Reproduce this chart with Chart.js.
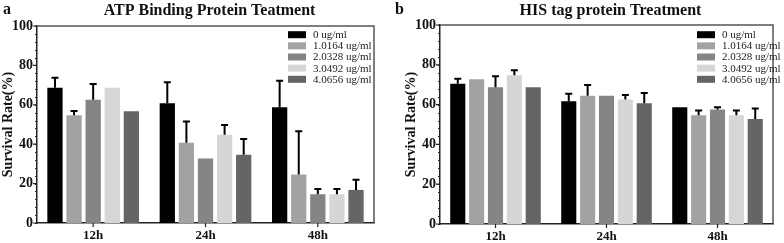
<!DOCTYPE html>
<html>
<head>
<meta charset="utf-8">
<script src="https://cdn.jsdelivr.net/npm/chart.js@4.4.1/dist/chart.umd.min.js"></script>
<style>
  html, body { margin: 0; padding: 0; background: #fff; }
  #wrap { position: relative; width: 784px; height: 243px; }
  .panel { position: absolute; top: 0; width: 392px; height: 243px; }
</style>
</head>
<body>
<div id="wrap">
  <div class="panel" style="left:0"><canvas id="atp" width="392" height="243"></canvas></div>
  <div class="panel" style="left:392px"><canvas id="his" width="392" height="243"></canvas></div>
</div>
<script>
const times = ['12h', '24h', '48h']
const doses = ['0 ug/ml', '1.0164 ug/ml', '2.0328 ug/ml', '3.0492 ug/ml', '4.0656 ug/ml']
const barColors = ['#000000', '#a2a2a2', '#858585', '#d6d6d6', '#656565']

// ATP binding protein: mean survival per dose (12h, 24h, 48h)
const atp0 = [68.7, 60.8, 58.8]
const atp1 = [54.7, 40.7, 24.6]
const atp2 = [62.6, 32.7, 14.6]
const atp3 = [68.7, 44.8, 14.6]
const atp4 = [56.7, 34.7, 16.8]
// upper error (SD)
const atpErr0 = [5.0, 10.6, 13.4]
const atpErr1 = [2.2, 10.8, 22.0]
const atpErr2 = [7.9, 0, 2.7]
const atpErr3 = [0, 5.0, 2.7]
const atpErr4 = [0, 7.9, 5.2]

// HIS tag protein
const his0 = [70.5, 61.7, 58.7]
const his1 = [72.7, 64.5, 54.7]
const his2 = [68.7, 64.5, 57.5]
const his3 = [74.8, 62.6, 54.7]
const his4 = [68.7, 60.7, 52.8]
const hisErr0 = [2.5, 3.8, 0]
const hisErr1 = [0, 5.3, 2.3]
const hisErr2 = [5.5, 0, 1.2]
const hisErr3 = [2.5, 2.2, 2.3]
const hisErr4 = [0, 5.1, 5.3]

const yTicks = [0, 20, 40, 60, 80, 100]
const SERIF = '"Liberation Serif", "Times New Roman", serif'

const decor = {
  id: 'decor',
  afterDatasetsDraw(chart) {
    const { ctx, chartArea: a, scales: { x, y } } = chart
    const cfg = chart.options.plugins.decor
    ctx.save()

    // error bars (upper only)
    ctx.strokeStyle = '#000'
    ctx.lineWidth = 2
    cfg.errors.forEach((errs, i) => {
      const meta = chart.getDatasetMeta(i)
      meta.data.forEach((bar, j) => {
        const e = errs[j]
        if (!e) return
        const v = chart.data.datasets[i].data[j]
        const yEnd = y.getPixelForValue(v + e)
        ctx.beginPath()
        ctx.moveTo(bar.x, bar.y)
        ctx.lineTo(bar.x, yEnd)
        ctx.moveTo(bar.x - 3.5, yEnd)
        ctx.lineTo(bar.x + 3.5, yEnd)
        ctx.stroke()
      })
    })

    // frame top and right
    ctx.strokeStyle = '#555'
    ctx.lineWidth = 1.5
    ctx.beginPath()
    ctx.moveTo(a.left, a.top)
    ctx.lineTo(a.right, a.top)
    ctx.lineTo(a.right, a.bottom)
    ctx.stroke()

    // y ticks, major and minor
    ctx.strokeStyle = '#222'
    ctx.lineWidth = 1.2
    ctx.beginPath()
    for (let v = 0; v <= 100; v += 4) {
      const py = Math.round(y.getPixelForValue(v)) + 0.5
      ctx.moveTo(a.left, py)
      ctx.lineTo(a.left - 2, py)
    }
    yTicks.forEach(v => {
      const py = y.getPixelForValue(v)
      ctx.moveTo(a.left, py)
      ctx.lineTo(a.left - 4, py)
    })
    // x ticks
    times.forEach((t, i) => {
      const px = x.getPixelForValue(i)
      ctx.moveTo(px, a.bottom)
      ctx.lineTo(px, a.bottom + 4)
    })
    ctx.stroke()

    // legend
    ctx.font = `11px ${SERIF}`
    ctx.textBaseline = 'middle'
    ctx.textAlign = 'left'
    doses.forEach((d, i) => {
      const cy = cfg.legendY + i * 11.15
      ctx.fillStyle = barColors[i]
      ctx.fillRect(cfg.legendX, cy - 3.5, 18, 7)
      ctx.fillStyle = '#222'
      ctx.fillText(d, cfg.legendX + 25, cy + 0.5)
    })

    // panel title and letter
    ctx.fillStyle = '#111'
    ctx.textBaseline = 'alphabetic'
    ctx.font = `bold 16px ${SERIF}`
    ctx.textAlign = 'center'
    ctx.fillText(cfg.title, (a.left + a.right) / 2 + 4, 15)
    ctx.textAlign = 'left'
    ctx.fillText(cfg.letter, 3, 14)
    ctx.restore()
  }
}

function makeChart(id, opts) {
  return new Chart(document.getElementById(id), {
    type: 'bar',
    data: {
      labels: times,
      datasets: doses.map((d, i) => ({
        label: d,
        data: opts.means[i],
        backgroundColor: barColors[i],
        borderWidth: 0,
        categoryPercentage: 0.85,
        barPercentage: 0.8
      }))
    },
    options: {
      responsive: false,
      animation: false,
      devicePixelRatio: 1,
      layout: { padding: opts.padding },
      plugins: {
        legend: { display: false },
        tooltip: { enabled: false },
        decor: { errors: opts.errors, title: opts.title, letter: opts.letter, legendX: opts.legendX, legendY: 34.7 }
      },
      scales: {
        x: {
          grid: { display: false, drawTicks: false },
          border: { display: true, color: '#222', width: 1.5 },
          ticks: { color: '#111', padding: 5, font: { family: SERIF, size: 13, weight: 'bold' } },
          afterFit: s => { s.height = opts.xHeight }
        },
        y: {
          min: 0, max: 100,
          grid: { display: false, drawTicks: false },
          border: { display: true, color: '#222', width: 1.5 },
          ticks: { stepSize: 20, color: '#111', padding: 4, font: { family: SERIF, size: 14, weight: 'bold' } },
          title: { display: true, text: 'Survival Rate(%)', color: '#111', padding: { top: 0, bottom: 0 }, font: { family: SERIF, size: 14, weight: 'bold' } },
          afterFit: s => { s.width = 37 }
        }
      }
    },
    plugins: [decor]
  })
}

makeChart('atp', {
  title: 'ATP Binding Protein Teatment', letter: 'a',
  means: [atp0, atp1, atp2, atp3, atp4],
  errors: [atpErr0, atpErr1, atpErr2, atpErr3, atpErr4],
  padding: { left: 0, right: 18, top: 26, bottom: 0 },
  xHeight: 20, legendX: 288
})

makeChart('his', {
  title: 'HIS tag protein Treatment', letter: 'b',
  means: [his0, his1, his2, his3, his4],
  errors: [hisErr0, hisErr1, hisErr2, hisErr3, hisErr4],
  padding: { left: 11, right: 11, top: 25, bottom: 0 },
  xHeight: 19, legendX: 305
})
</script>
</body>
</html>
